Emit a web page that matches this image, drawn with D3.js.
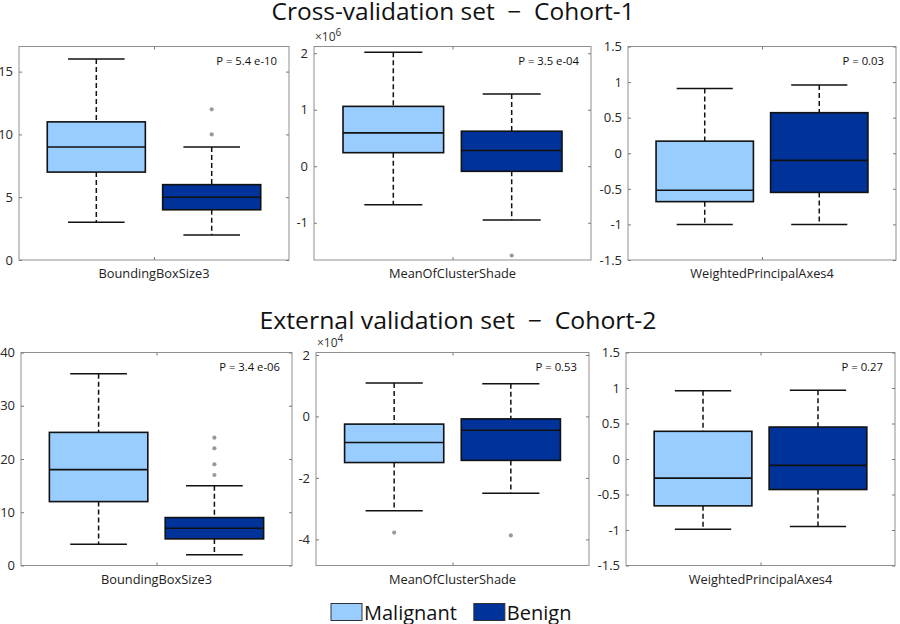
<!DOCTYPE html>
<html><head><meta charset="utf-8">
<script src="https://cdn.jsdelivr.net/npm/d3@7"></script>
<style>body{margin:0;background:#fff} svg{display:block;font-family:"Open Sans",sans-serif}</style>
</head><body><svg id="c" width="900" height="624"></svg>
<script>
// ---------------- data ----------------
const groups = ["Malignant", "Benign"];
const features = ["BoundingBoxSize3", "MeanOfClusterShade", "WeightedPrincipalAxes4"];
const rowTitles = ["Cross-validation set  \u2212  Cohort-1", "External validation set  \u2212  Cohort-2"];
// five-number summaries: [lower whisker, Q1, median, Q3, upper whisker]
const cohort1Malignant = [[3, 7, 9, 11, 16], [-0.68, 0.24, 0.59, 1.06, 2.02], [-1.0, -0.68, -0.52, 0.17, 0.91]];
const cohort1Benign = [[2, 4, 5, 6, 9], [-0.95, -0.09, 0.28, 0.62, 1.28], [-1.0, -0.55, -0.1, 0.57, 0.96]];
const cohort1MalignantOutliers = [[], [], []];
const cohort1BenignOutliers = [[10, 12], [-1.58], []];
const cohort1P = ["P = 5.4 e-10", "P = 3.5 e-04", "P = 0.03"];
const cohort2Malignant = [[4, 12, 18, 25, 36], [-3.07, -1.5, -0.85, -0.25, 1.09], [-0.99, -0.66, -0.27, 0.39, 0.96]];
const cohort2Benign = [[2, 5, 7, 9, 15], [-2.5, -1.43, -0.45, -0.08, 1.06], [-0.95, -0.43, -0.09, 0.45, 0.97]];
const cohort2MalignantOutliers = [[], [-3.78], []];
const cohort2BenignOutliers = [[17, 19, 22, 24], [-3.87], []];
const cohort2P = ["P = 3.4 e-06", "P = 0.53", "P = 0.27"];
const cohort1YDomains = [[0, 17], [-1.66, 2.12], [-1.5, 1.5]];
const cohort2YDomains = [[0, 40], [-4.85, 2.08], [-1.5, 1.5]];
const cohort1YTicks = [[0, 5, 10, 15], [-1, 0, 1, 2], [-1.5, -1, -0.5, 0, 0.5, 1, 1.5]];
const cohort2YTicks = [[0, 10, 20, 30, 40], [-4, -2, 0, 2], [-1.5, -1, -0.5, 0, 0.5, 1, 1.5]];
const cohort1Exponent = [null, "6", null];
const cohort2Exponent = [null, "4", null];

// ---------------- styling / layout ----------------
const colors = {Malignant: "#99ccff", Benign: "#003399"};
const rows = [
  {title: rowTitles[0], titleX: 453, titleY: 20, titleLen: 363,
   panels: [[19, 289], [314, 591], [628, 896]], y0: 46.5, y1: 260,
   mal: cohort1Malignant, ben: cohort1Benign, malOut: cohort1MalignantOutliers, benOut: cohort1BenignOutliers,
   p: cohort1P, dom: cohort1YDomains, ticks: cohort1YTicks, exp: cohort1Exponent},
  {title: rowTitles[1], titleX: 458, titleY: 329, titleLen: 397,
   panels: [[21, 292], [316, 589], [626, 895]], y0: 352.5, y1: 565.5,
   mal: cohort2Malignant, ben: cohort2Benign, malOut: cohort2MalignantOutliers, benOut: cohort2BenignOutliers,
   p: cohort2P, dom: cohort2YDomains, ticks: cohort2YTicks, exp: cohort2Exponent}
];

const svg = d3.select("#c");
const boxW = 0.85, capW = 0.49;

rows.forEach(row => {
  svg.append("text")
    .attr("x", row.titleX).attr("y", row.titleY)
    .attr("text-anchor", "middle")
    .attr("font-size", 23).attr("fill", "#111")
    .attr("textLength", row.titleLen).attr("lengthAdjust", "spacingAndGlyphs")
    .style("white-space", "pre")
    .text(row.title);

  row.panels.forEach((px, k) => {
    const x = d3.scaleLinear().domain([0.33, 2.67]).range(px);
    const y = d3.scaleLinear().domain(row.dom[k]).range([row.y1, row.y0]);
    const g = svg.append("g");

    g.append("rect")
      .attr("x", px[0]).attr("y", row.y0)
      .attr("width", px[1] - px[0]).attr("height", row.y1 - row.y0)
      .attr("fill", "#fff").attr("stroke", "#8f8f8f").attr("stroke-width", 1);

    const yl = g.append("g").attr("transform", `translate(${px[0]},0)`)
      .call(d3.axisLeft(y).tickValues(row.ticks[k]).tickSize(-3).tickPadding(6).tickFormat(v => String(v)));
    const yr = g.append("g").attr("transform", `translate(${px[1]},0)`)
      .call(d3.axisRight(y).tickValues(row.ticks[k]).tickSize(-3).tickFormat(""));
    const xb = g.append("g").attr("transform", `translate(0,${row.y1})`)
      .call(d3.axisBottom(x).tickValues([1.5]).tickSize(-3).tickFormat(""));
    const xt = g.append("g").attr("transform", `translate(0,${row.y0})`)
      .call(d3.axisTop(x).tickValues([1.5]).tickSize(-3).tickFormat(""));
    [yl, yr, xb, xt].forEach(a => {
      a.select(".domain").remove();
      a.selectAll(".tick line").attr("stroke", "#7a7a7a");
      a.selectAll("text").attr("font-size", 13).attr("fill", "#262626")
        .attr("font-family", "'Open Sans',sans-serif");
    });

    const sets = [
      {name: "Malignant", s: row.mal[k], out: row.malOut[k], pos: 1},
      {name: "Benign", s: row.ben[k], out: row.benOut[k], pos: 2}
    ];
    sets.forEach(d => {
      const [lo, q1, med, q3, hi] = d.s;
      const cx = x(d.pos);
      const bw = x(d.pos + boxW / 2) - x(d.pos - boxW / 2);
      const cw = x(d.pos + capW / 2) - x(d.pos - capW / 2);
      [[hi, q3], [q1, lo]].forEach(([a, b]) => {
        g.append("line").attr("x1", cx).attr("x2", cx)
          .attr("y1", y(a)).attr("y2", y(b))
          .attr("stroke", "#111").attr("stroke-width", 1.5)
          .attr("stroke-dasharray", "5,3");
      });
      [hi, lo].forEach(v => {
        g.append("line").attr("x1", cx - cw / 2).attr("x2", cx + cw / 2)
          .attr("y1", y(v)).attr("y2", y(v))
          .attr("stroke", "#111").attr("stroke-width", 1.5);
      });
      g.append("rect")
        .attr("x", cx - bw / 2).attr("y", y(q3))
        .attr("width", bw).attr("height", y(q1) - y(q3))
        .attr("fill", colors[d.name]).attr("stroke", "#111").attr("stroke-width", 1.6);
      g.append("line").attr("x1", cx - bw / 2).attr("x2", cx + bw / 2)
        .attr("y1", y(med)).attr("y2", y(med))
        .attr("stroke", "#111").attr("stroke-width", 1.6);
      d.out.forEach(v => {
        g.append("circle").attr("cx", cx).attr("cy", y(v)).attr("r", 2.1)
          .attr("fill", "#9a9a9a");
      });
    });

    g.append("text")
      .attr("x", px[1] - 12).attr("y", row.y0 + 18.5)
      .attr("text-anchor", "end").attr("font-size", 11.3).attr("fill", "#111")
      .text(row.p[k]);

    g.append("text")
      .attr("x", (px[0] + px[1]) / 2).attr("y", row.y1 + 18)
      .attr("text-anchor", "middle").attr("font-size", 12.8).attr("fill", "#222")
      .text(features[k]);

    if (row.exp[k]) {
      const t = g.append("text")
        .attr("x", px[0] + 1).attr("y", row.y0 - 6)
        .attr("font-size", 12).attr("fill", "#333");
      t.append("tspan").text("\u00d710");
      t.append("tspan").attr("dy", -5).attr("font-size", 10).text(row.exp[k]);
    }
  });
});

// legend
let lx = 331;
groups.forEach(name => {
  svg.append("rect").attr("x", lx).attr("y", 603.5).attr("width", 31).attr("height", 17)
    .attr("fill", colors[name]).attr("stroke", "#333").attr("stroke-width", 1);
  const t = svg.append("text").attr("x", lx + 33).attr("y", 619.5)
    .attr("font-size", 20).attr("fill", "#111").text(name);
  lx = lx + 33 + t.node().getComputedTextLength() + 17;
});
</script>
</body></html>
